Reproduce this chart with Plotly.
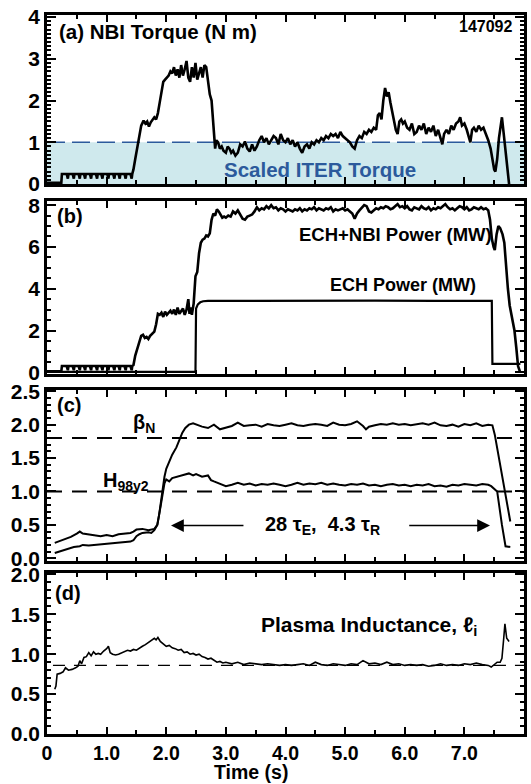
import plotly.graph_objects as go

# ---------------- data ----------------
# (a) NBI torque (N m)
torque_t = [0.00, 0.24, 0.25,
            0.33, 0.35, 0.36, 0.43, 0.45, 0.46, 0.53, 0.55, 0.56, 0.62, 0.64, 0.65,
            0.72, 0.74, 0.75, 0.82, 0.84, 0.85, 0.91, 0.93, 0.94, 1.01, 1.03, 1.04,
            1.11, 1.13, 1.14, 1.20, 1.22, 1.23, 1.30, 1.32, 1.33, 1.40, 1.42, 1.43,
            1.45, 1.48, 1.50, 1.52, 1.55, 1.58, 1.62, 1.65, 1.68, 1.71, 1.74, 1.77,
            1.80, 1.83, 1.86, 1.89, 1.92, 1.95, 1.98, 2.01, 2.04, 2.07, 2.10, 2.13,
            2.16, 2.19, 2.22, 2.25, 2.28, 2.31, 2.34, 2.37, 2.40, 2.43, 2.46, 2.49,
            2.52, 2.55, 2.58, 2.61, 2.64, 2.67, 2.70, 2.73, 2.76, 2.78, 2.80, 2.82,
            2.84, 2.87, 2.90, 2.93, 2.96, 3.00, 3.03, 3.06, 3.09, 3.12, 3.16, 3.20,
            3.24, 3.28, 3.32, 3.36, 3.40, 3.44, 3.48, 3.52, 3.56, 3.60, 3.64, 3.68,
            3.72, 3.76, 3.80, 3.84, 3.88, 3.92, 3.96, 4.00, 4.04, 4.08, 4.12, 4.16,
            4.20, 4.24, 4.28, 4.32, 4.36, 4.40, 4.44, 4.48, 4.52, 4.56, 4.60, 4.64,
            4.68, 4.72, 4.76, 4.80, 4.84, 4.88, 4.92, 4.96, 5.00, 5.04, 5.08, 5.12,
            5.16, 5.20, 5.24, 5.28, 5.32, 5.36, 5.40, 5.44, 5.48, 5.52, 5.55, 5.58,
            5.61, 5.64, 5.67, 5.70, 5.73, 5.76, 5.79, 5.82, 5.85, 5.88, 5.91, 5.94,
            5.97, 6.00, 6.04, 6.08, 6.12, 6.16, 6.20, 6.24, 6.28, 6.32, 6.36, 6.40,
            6.44, 6.48, 6.52, 6.56, 6.60, 6.63, 6.66, 6.70, 6.74, 6.78, 6.82, 6.86,
            6.90, 6.93, 6.96, 7.00, 7.04, 7.07, 7.10, 7.13, 7.16, 7.20, 7.24, 7.28,
            7.32, 7.36, 7.40, 7.44, 7.47, 7.50, 7.52, 7.55, 7.58, 7.61, 7.63, 7.66,
            7.69, 7.72, 7.75]
torque_v = [0.03, 0.03, 0.24,
            0.24, 0.13, 0.24, 0.24, 0.13, 0.24, 0.24, 0.13, 0.24, 0.24, 0.13, 0.24,
            0.24, 0.13, 0.24, 0.24, 0.13, 0.24, 0.24, 0.13, 0.24, 0.24, 0.13, 0.24,
            0.24, 0.13, 0.24, 0.24, 0.13, 0.24, 0.24, 0.13, 0.24, 0.24, 0.13, 0.24,
            0.35, 0.60, 0.75, 0.95, 1.20, 1.40, 1.52, 1.45, 1.50, 1.38, 1.48, 1.55,
            1.60, 1.55, 1.70, 1.95, 2.20, 2.45, 2.50, 2.55, 2.60, 2.70, 2.65, 2.80,
            2.60, 2.75, 2.55, 2.85, 2.60, 2.75, 2.95, 2.55, 2.45, 2.80, 2.55, 2.90,
            2.50, 2.65, 2.80, 2.55, 2.85, 2.80, 2.40, 2.15, 2.00, 1.60, 1.10, 0.85,
            1.05, 1.00, 0.85, 0.90, 0.80, 0.75, 0.90, 0.85, 0.75, 0.80, 0.68, 0.75,
            0.95, 0.90, 1.02, 0.85, 0.78, 0.95, 0.80, 0.90, 1.05, 1.15, 1.00, 1.10,
            0.95, 1.05, 1.15, 1.10, 0.95, 1.20, 1.05, 1.00, 1.10, 0.95, 1.05, 0.90,
            1.00, 0.85, 0.75, 0.90, 0.95, 0.85, 1.00, 0.95, 1.05, 1.00, 1.10, 1.05,
            1.15, 1.10, 1.20, 1.15, 1.20, 1.10, 1.25, 1.15, 1.10, 1.05, 1.00, 0.90,
            0.85, 1.05, 1.15, 1.10, 1.25, 1.20, 1.30, 1.25, 1.35, 1.30, 1.65, 1.70,
            1.55, 2.00, 2.30, 2.10, 2.20, 1.95, 1.70, 1.50, 1.30, 1.20, 1.50, 1.55,
            1.45, 1.50, 1.35, 1.30, 1.45, 1.20, 1.25, 1.40, 1.30, 1.45, 1.20, 1.35,
            1.25, 1.40, 1.15, 1.30, 1.10, 0.95, 1.20, 1.30, 1.20, 1.40, 1.30, 1.45,
            1.50, 1.60, 1.40, 1.45, 1.30, 1.15, 1.00, 1.30, 1.35, 1.25, 1.40, 1.30,
            1.35, 1.20, 1.05, 0.85, 0.60, 0.35, 0.30, 0.60, 1.10, 1.45, 1.60, 1.20,
            0.80, 0.40, 0.00]
ITER_TORQUE = 1.0

# (b) heating power (MW)
power_t = [0.00, 0.24, 0.25,
           0.33, 0.35, 0.36, 0.43, 0.45, 0.46, 0.53, 0.55, 0.56, 0.62, 0.64, 0.65,
           0.72, 0.74, 0.75, 0.82, 0.84, 0.85, 0.91, 0.93, 0.94, 1.01, 1.03, 1.04,
           1.11, 1.13, 1.14, 1.20, 1.22, 1.23, 1.30, 1.32, 1.33, 1.40, 1.42, 1.43,
           1.45, 1.48, 1.51, 1.55, 1.58, 1.61, 1.64, 1.67, 1.70, 1.73, 1.76, 1.80,
           1.83, 1.86, 1.89, 1.92, 1.95, 1.98, 2.01, 2.04, 2.07, 2.10, 2.13, 2.16,
           2.19, 2.22, 2.25, 2.28, 2.31, 2.34, 2.37, 2.39, 2.41, 2.43, 2.46, 2.49,
           2.52, 2.55, 2.58, 2.61, 2.64, 2.67, 2.70, 2.73, 2.76, 2.79, 2.82, 2.85,
           2.88, 2.91, 2.94, 2.97, 3.00, 3.04, 3.08, 3.12, 3.16, 3.20, 3.24, 3.28,
           3.32, 3.36, 3.40, 3.44, 3.48, 3.52, 3.56, 3.60, 3.64, 3.68, 3.72, 3.76,
           3.80, 3.84, 3.88, 3.92, 3.96, 4.00, 4.04, 4.08, 4.12, 4.16, 4.20, 4.24,
           4.28, 4.32, 4.36, 4.40, 4.44, 4.48, 4.52, 4.56, 4.60, 4.64, 4.68, 4.72,
           4.76, 4.80, 4.84, 4.88, 4.92, 4.96, 5.00, 5.04, 5.08, 5.12, 5.16, 5.20,
           5.24, 5.28, 5.32, 5.36, 5.40, 5.44, 5.48, 5.52, 5.56, 5.60, 5.64, 5.68,
           5.72, 5.76, 5.80, 5.84, 5.88, 5.92, 5.96, 6.00, 6.04, 6.08, 6.12, 6.16,
           6.20, 6.24, 6.28, 6.32, 6.36, 6.40, 6.44, 6.48, 6.52, 6.56, 6.60, 6.64,
           6.68, 6.72, 6.76, 6.80, 6.84, 6.88, 6.92, 6.96, 7.00, 7.04, 7.08, 7.12,
           7.16, 7.20, 7.24, 7.28, 7.32, 7.36, 7.40, 7.43, 7.46, 7.49, 7.51, 7.54,
           7.57, 7.60, 7.64, 7.67, 7.70, 7.73, 7.76, 7.80, 7.84, 7.87, 7.90, 7.93]
power_v = [0.05, 0.05, 0.30,
           0.30, 0.10, 0.30, 0.30, 0.10, 0.30, 0.30, 0.10, 0.30, 0.30, 0.10, 0.30,
           0.30, 0.10, 0.30, 0.30, 0.10, 0.30, 0.30, 0.10, 0.30, 0.30, 0.10, 0.30,
           0.30, 0.10, 0.30, 0.30, 0.10, 0.30, 0.30, 0.10, 0.30, 0.30, 0.10, 0.30,
           0.35, 0.80, 1.10, 1.50, 1.75, 1.80, 1.65, 1.70, 1.60, 1.75, 1.85, 1.95,
           2.30, 2.80, 2.75, 2.85, 2.65, 2.90, 2.75, 2.85, 2.95, 2.80, 3.00, 2.75,
           3.10, 2.80, 2.90, 3.05, 2.75, 3.00, 3.50, 2.80, 3.10, 2.75, 3.30, 4.60,
           4.80, 5.70, 6.20, 6.35, 6.40, 6.55, 6.50, 6.65, 7.30, 7.60, 7.50, 7.80,
           7.70, 7.55, 7.40, 7.45, 7.40, 7.50, 7.45, 7.70, 7.60, 7.75, 7.55, 7.35,
           7.30, 7.45, 7.50, 7.55, 7.70, 7.90, 7.75, 7.85, 7.80, 7.95, 7.85, 8.00,
           7.85, 7.90, 7.75, 7.85, 7.80, 7.70, 7.80, 7.75, 7.70, 7.80, 7.75, 7.85,
           7.70, 7.80, 7.75, 7.85, 7.80, 7.90, 7.75, 7.85, 7.80, 7.75, 7.85, 7.80,
           7.90, 7.70, 7.80, 7.75, 7.80, 7.85, 7.75, 7.80, 7.70, 7.60, 7.35, 7.60,
           7.75, 7.90, 8.00, 7.95, 7.70, 7.65, 7.75, 7.85, 7.80, 7.90, 7.85, 7.95,
           7.90, 7.80, 7.85, 7.95, 8.05, 7.90, 7.95, 7.85, 7.95, 7.80, 7.75, 7.90,
           7.85, 7.80, 7.95, 7.85, 7.80, 7.90, 7.75, 7.85, 7.80, 7.90, 7.85, 7.95,
           8.05, 7.90, 7.80, 7.85, 7.75, 7.85, 7.95, 7.90, 7.80, 7.90, 7.75, 7.80,
           7.90, 7.85, 7.80, 7.90, 7.80, 7.85, 7.75, 7.30, 6.40, 6.00, 5.85, 6.60,
           7.00, 6.90, 6.60, 6.20, 5.00, 4.00, 3.20, 2.50, 2.00, 1.20, 0.30, 0.05]

ech_t = [0.00, 2.49, 2.50, 2.53, 2.57, 2.62, 2.70, 3.50, 4.50, 5.50, 6.50, 7.46, 7.47, 7.94]
ech_v = [0.02, 0.02, 3.05, 3.25, 3.35, 3.40, 3.42, 3.43, 3.42, 3.43, 3.42, 3.42, 0.40, 0.40]

# (c) normalised beta and confinement factor
beta_t = [0.13, 0.20, 0.30, 0.45, 0.55, 0.60, 0.70, 0.80, 0.90, 1.00, 1.10, 1.20,
          1.30, 1.40, 1.45, 1.50, 1.55, 1.60, 1.70, 1.75, 1.80, 1.85, 1.88, 1.91,
          1.94, 1.97, 2.00, 2.05, 2.10, 2.17, 2.22, 2.27, 2.32, 2.38, 2.45, 2.50,
          2.60, 2.70, 2.80, 2.90, 3.00, 3.10, 3.20, 3.30, 3.40, 3.50, 3.60, 3.70,
          3.80, 3.90, 4.00, 4.10, 4.20, 4.30, 4.40, 4.50, 4.60, 4.70, 4.80, 4.90,
          5.00, 5.10, 5.20, 5.30, 5.35, 5.40, 5.50, 5.60, 5.70, 5.80, 5.90, 6.00,
          6.10, 6.20, 6.30, 6.40, 6.50, 6.60, 6.70, 6.80, 6.90, 7.00, 7.10, 7.20,
          7.30, 7.40, 7.47, 7.51, 7.58, 7.66, 7.72, 7.77]
beta_v = [0.08, 0.10, 0.13, 0.17, 0.18, 0.20, 0.19, 0.20, 0.21, 0.22, 0.22, 0.23,
          0.24, 0.25, 0.27, 0.33, 0.36, 0.38, 0.39, 0.38, 0.42, 0.50, 0.65, 0.85,
          1.05, 1.22, 1.34, 1.45, 1.55, 1.66, 1.78, 1.88, 1.95, 2.00, 2.02, 2.00,
          1.97, 1.95, 2.00, 1.93, 1.96, 1.98, 2.03, 1.98, 1.99, 2.00, 1.97, 2.01,
          1.99, 1.98, 2.00, 2.02, 1.99, 1.98, 2.00, 2.01, 2.00, 1.98, 2.03, 2.00,
          1.99, 2.01, 2.05, 1.98, 1.93, 1.97, 1.99, 2.01, 2.00, 2.02, 2.00, 2.01,
          1.99, 2.00, 2.02, 2.00, 2.03, 1.99, 1.98, 2.00, 1.97, 2.01, 1.99, 2.02,
          1.98, 2.00, 1.99, 1.85, 1.50, 1.10, 0.75, 0.55]
BETA_REF = 1.8

h98_t = [0.13, 0.25, 0.40, 0.50, 0.55, 0.60, 0.70, 0.80, 0.90, 1.00, 1.10, 1.20,
         1.30, 1.40, 1.45, 1.50, 1.60, 1.70, 1.80, 1.85, 1.90, 1.94, 1.97, 2.00,
         2.05, 2.10, 2.20, 2.30, 2.38, 2.45, 2.50, 2.60, 2.70, 2.75, 2.80, 2.90,
         3.00, 3.10, 3.20, 3.30, 3.40, 3.50, 3.60, 3.70, 3.80, 3.90, 4.00, 4.10,
         4.20, 4.30, 4.40, 4.50, 4.60, 4.70, 4.80, 4.90, 5.00, 5.10, 5.20, 5.30,
         5.40, 5.50, 5.60, 5.70, 5.80, 5.90, 6.00, 6.10, 6.20, 6.30, 6.40, 6.50,
         6.60, 6.70, 6.80, 6.90, 7.00, 7.10, 7.20, 7.30, 7.40, 7.45, 7.55, 7.63,
         7.69, 7.77]
h98_v = [0.23, 0.27, 0.32, 0.37, 0.40, 0.37, 0.36, 0.34, 0.33, 0.35, 0.33, 0.36,
         0.37, 0.38, 0.40, 0.43, 0.44, 0.42, 0.44, 0.50, 0.75, 1.00, 1.12, 1.18,
         1.15, 1.20, 1.22, 1.25, 1.27, 1.24, 1.26, 1.22, 1.24, 1.17, 1.15, 1.12,
         1.08, 1.10, 1.13, 1.10, 1.12, 1.09, 1.11, 1.10, 1.12, 1.10, 1.08, 1.10,
         1.13, 1.10, 1.12, 1.11, 1.13, 1.10, 1.12, 1.10, 1.09, 1.11, 1.10, 1.12,
         1.09, 1.10, 1.08, 1.10, 1.11, 1.09, 1.10, 1.08, 1.10, 1.09, 1.11, 1.08,
         1.09, 1.07, 1.10, 1.09, 1.11, 1.10, 1.09, 1.11, 1.10, 1.08, 1.00, 0.50,
         0.18, 0.17]
H98_REF = 1.0

# (d) internal inductance
li_t = [0.13, 0.15, 0.17, 0.22, 0.27, 0.31, 0.36, 0.42, 0.48, 0.52, 0.55, 0.58,
        0.62, 0.66, 0.70, 0.74, 0.78, 0.82, 0.86, 0.90, 0.95, 1.00, 1.03, 1.06,
        1.10, 1.15, 1.20, 1.25, 1.30, 1.35, 1.40, 1.45, 1.50, 1.55, 1.60, 1.65,
        1.70, 1.75, 1.80, 1.83, 1.86, 1.90, 1.95, 2.00, 2.05, 2.10, 2.15, 2.20,
        2.25, 2.30, 2.35, 2.40, 2.45, 2.50, 2.55, 2.60, 2.65, 2.70, 2.75, 2.80,
        2.85, 2.90, 2.95, 3.00, 3.10, 3.20, 3.30, 3.40, 3.50, 3.60, 3.70, 3.80,
        3.90, 4.00, 4.10, 4.20, 4.30, 4.40, 4.50, 4.60, 4.70, 4.80, 4.90, 5.00,
        5.10, 5.20, 5.30, 5.40, 5.50, 5.60, 5.70, 5.80, 5.90, 6.00, 6.10, 6.20,
        6.30, 6.40, 6.50, 6.60, 6.70, 6.80, 6.90, 7.00, 7.10, 7.20, 7.30, 7.40,
        7.45, 7.50, 7.55, 7.60, 7.63, 7.66, 7.68, 7.71, 7.75]
li_v = [0.56, 0.60, 0.75, 0.76, 0.78, 0.83, 0.80, 0.81, 0.83, 0.85, 0.92, 0.88,
        0.96, 0.97, 1.02, 0.98, 1.03, 1.00, 1.01, 1.00, 1.04, 1.07, 1.10, 1.02,
        1.00, 0.99, 1.00, 1.02, 1.03, 1.05, 1.04, 1.06, 1.05, 1.08, 1.10, 1.12,
        1.15, 1.17, 1.20, 1.18, 1.21, 1.16, 1.13, 1.10, 1.11, 1.08, 1.07, 1.05,
        1.06, 1.02, 1.03, 1.00, 1.01, 0.99, 1.00, 0.97, 0.96, 0.94, 0.95, 0.92,
        0.90, 0.91, 0.89, 0.90, 0.88, 0.90, 0.87, 0.89, 0.88, 0.87, 0.88, 0.87,
        0.86, 0.87, 0.86, 0.87, 0.88, 0.86, 0.90, 0.87, 0.86, 0.88, 0.87, 0.86,
        0.88, 0.87, 0.92, 0.88, 0.89, 0.87, 0.90, 0.87, 0.88, 0.86, 0.87, 0.86,
        0.87, 0.85, 0.86, 0.88, 0.86, 0.87, 0.86, 0.88, 0.87, 0.89, 0.87, 0.86,
        0.84, 0.87, 0.90, 0.90, 0.95, 1.20, 1.38, 1.20, 1.16]
LI_REF = 0.86

# axis ticks
X_TICKS = [0, 1, 2, 3, 4, 5, 6, 7]
X_TICK_LABELS = ["0", "1.0", "2.0", "3.0", "4.0", "5.0", "6.0", "7.0"]
YA_TICKS = [0, 1, 2, 3, 4]
YA_LABELS = ["0", "1", "2", "3", "4"]
YB_TICKS = [0, 2, 4, 6, 8]
YB_LABELS = ["0", "2", "4", "6", "8"]
YC_TICKS = [0, 0.5, 1.0, 1.5, 2.0, 2.5]
YC_LABELS = ["0.0", "0.5", "1.0", "1.5", "2.0", "2.5"]
YD_TICKS = [0, 0.5, 1.0, 1.5, 2.0]
YD_LABELS = ["0.0", "0.5", "1.0", "1.5", "2.0"]

# ---------------- layout helpers ----------------
W, H = 531, 784
ML, MR, MT, MB = 47, 4, 10, 50
FONT = "Liberation Sans, Arial, Helvetica, sans-serif"
BLUE = "#2c5a9c"


def dom(top_px, bot_px):
    h = H - MT - MB
    return [(H - MB - bot_px) / h, (H - MB - top_px) / h]


def xaxis(anchor, labels):
    return dict(range=[0, 8], domain=[0, 1], anchor=anchor,
                showline=True, linewidth=2.5, linecolor="black", mirror="allticks",
                ticks="inside", ticklen=7, tickwidth=2, tickcolor="black",
                tickvals=X_TICKS, ticktext=X_TICK_LABELS, showticklabels=labels,
                tickfont=dict(size=19.5, family=FONT, weight="bold", color="black"),
                minor=dict(tick0=0, dtick=0.5, ticklen=4, tickwidth=1.5, ticks="inside",
                           tickcolor="black", showgrid=False),
                showgrid=False, zeroline=False)


def yaxis(anchor, rng, domain, tv, tt, minor):
    return dict(range=rng, domain=domain, anchor=anchor,
                showline=True, linewidth=2.5, linecolor="black", mirror="allticks",
                ticks="inside", ticklen=9, tickwidth=2, tickcolor="black",
                tickvals=tv, ticktext=tt,
                tickfont=dict(size=21, family=FONT, weight="bold", color="black"),
                minor=dict(tick0=0, dtick=minor, ticklen=4, tickwidth=1.5, ticks="inside",
                           tickcolor="black", showgrid=False),
                showgrid=False, zeroline=False)


fig = go.Figure()

# (a) scaled ITER torque band and NBI torque
fig.add_trace(go.Scatter(x=[0, 8], y=[ITER_TORQUE, ITER_TORQUE], mode="lines",
                         line=dict(color=BLUE, width=1.5, dash="18px,7px"),
                         fill="tozeroy", fillcolor="#cfe9ed", xaxis="x", yaxis="y",
                         showlegend=False, hoverinfo="skip"))
fig.add_trace(go.Scatter(x=torque_t, y=torque_v, mode="lines",
                         line=dict(color="black", width=2.6), xaxis="x", yaxis="y",
                         showlegend=False))

# (b) powers
fig.add_trace(go.Scatter(x=power_t, y=power_v, mode="lines",
                         line=dict(color="black", width=2.6), xaxis="x2", yaxis="y2",
                         showlegend=False))
fig.add_trace(go.Scatter(x=ech_t, y=ech_v, mode="lines",
                         line=dict(color="black", width=2.2), xaxis="x2", yaxis="y2",
                         showlegend=False))

# (c) beta_N and H98 with reference levels
for ref in (BETA_REF, H98_REF):
    fig.add_trace(go.Scatter(x=[0, 8], y=[ref, ref], mode="lines",
                             line=dict(color="black", width=2, dash="15px,10px"),
                             xaxis="x3", yaxis="y3", showlegend=False, hoverinfo="skip"))
fig.add_trace(go.Scatter(x=beta_t, y=beta_v, mode="lines",
                         line=dict(color="black", width=2), xaxis="x3", yaxis="y3",
                         showlegend=False))
fig.add_trace(go.Scatter(x=h98_t, y=h98_v, mode="lines",
                         line=dict(color="black", width=2), xaxis="x3", yaxis="y3",
                         showlegend=False))

# (d) li
fig.add_trace(go.Scatter(x=[0.1, 8], y=[LI_REF, LI_REF], mode="lines",
                         line=dict(color="black", width=1.2, dash="12px,9px"),
                         xaxis="x4", yaxis="y4", showlegend=False, hoverinfo="skip"))
fig.add_trace(go.Scatter(x=li_t, y=li_v, mode="lines",
                         line=dict(color="black", width=1.6), xaxis="x4", yaxis="y4",
                         showlegend=False))


def note(text, x, y, xref, yref, size, xanchor="center", color="black"):
    return dict(text=text, x=x, y=y, xref=xref, yref=yref, xanchor=xanchor,
                yanchor="middle", showarrow=False,
                font=dict(family=FONT, size=size, color=color, weight="bold"))


annotations = [
    note("(a) NBI Torque (N m)", 0.17, 3.66, "x", "y", 20.5, "left"),
    note("147092", 7.83, 3.77, "x", "y", 16, "right"),
    note("Scaled ITER Torque", 4.58, 0.36, "x", "y", 20.5, color=BLUE),
    note("(b)", 0.13, 7.5, "x2", "y2", 20, "left"),
    note("ECH+NBI Power (MW)", 5.85, 6.6, "x2", "y2", 18.5),
    note("ECH Power (MW)", 5.97, 4.2, "x2", "y2", 18),
    note("(c)", 0.13, 2.3, "x3", "y3", 20, "left"),
    note("β<sub>N</sub>", 1.63, 2.02, "x3", "y3", 20),
    note("H<sub>98y2</sub>", 1.32, 1.15, "x3", "y3", 20),
    note("28 τ<sub>E</sub>,  4.3 τ<sub>R</sub>", 4.62, 0.49, "x3", "y3", 20),
    note("(d)", 0.1, 1.77, "x4", "y4", 20, "left"),
    note("Plasma Inductance, ℓ<sub>i</sub>", 5.4, 1.35, "x4", "y4", 21),
    dict(text="Time (s)", x=(252 - ML) / (W - ML - MR), y=(H - MB - 772) / (H - MT - MB),
         xref="paper", yref="paper", showarrow=False, xanchor="center", yanchor="middle",
         font=dict(family=FONT, size=19.5, color="black", weight="bold")),
]

# duration arrows in (c)
for tail, head in ((3.32, 2.08), (6.05, 7.43)):
    annotations.append(dict(x=head, y=0.49, ax=tail, ay=0.49, xref="x3", yref="y3",
                            axref="x3", ayref="y3", text="", showarrow=True,
                            arrowhead=2, arrowsize=1.6, arrowwidth=1.6, arrowcolor="black"))

fig.update_layout(
    width=W, height=H,
    margin=dict(l=ML, r=MR, t=MT, b=MB, pad=0),
    paper_bgcolor="white", plot_bgcolor="white",
    font=dict(family=FONT, size=20, color="black", weight="bold"),
    xaxis=xaxis("y", False),
    xaxis2=xaxis("y2", False),
    xaxis3=xaxis("y3", False),
    xaxis4=xaxis("y4", True),
    yaxis=yaxis("x", [0, 4.05], dom(11, 181), YA_TICKS, YA_LABELS, 0.1),
    yaxis2=yaxis("x2", [-0.08, 8.2], dom(198, 372), YB_TICKS, YB_LABELS, 0.5),
    yaxis3=yaxis("x3", [-0.04, 2.52], dom(388, 560), YC_TICKS, YC_LABELS, 0.1),
    yaxis4=yaxis("x4", [0, 2.02], dom(572, 734), YD_TICKS, YD_LABELS, 0.1),
    annotations=annotations,
    showlegend=False,
)

fig.write_html("out.html")
